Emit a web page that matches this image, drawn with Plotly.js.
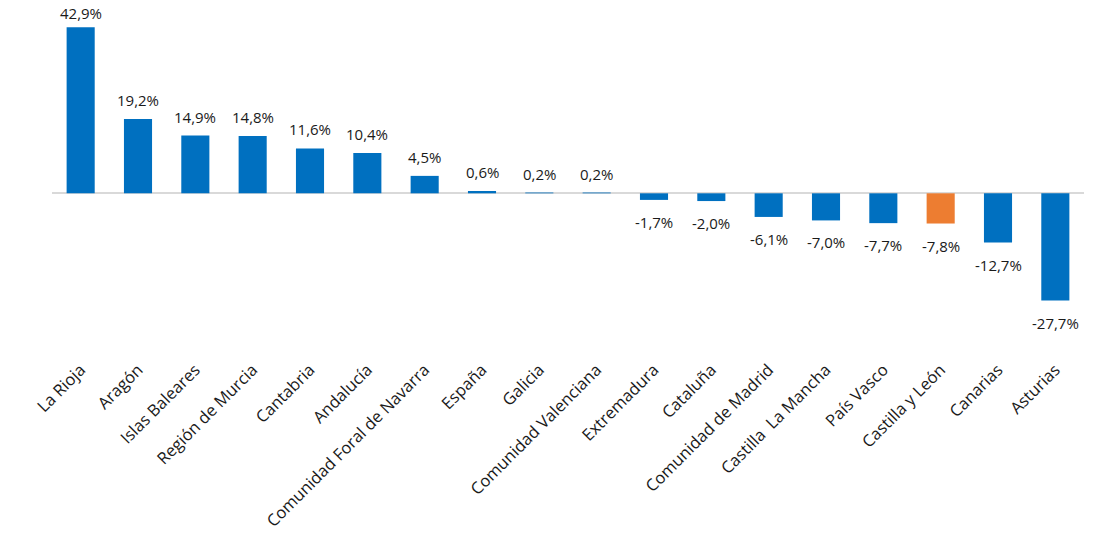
<!DOCTYPE html>
<html>
<head>
<meta charset="utf-8">
<script src="https://cdn.plot.ly/plotly-3.0.1.min.js"></script>
<style>
  html, body { margin: 0; padding: 0; background: #ffffff; }
  #chart { width: 1100px; height: 541px; }
</style>
</head>
<body>
<div id="chart"></div>
<script>
// Variación por comunidad autónoma (%)
const regions = [
  "La Rioja", "Aragón", "Islas Baleares", "Región de Murcia", "Cantabria",
  "Andalucía", "Comunidad Foral de Navarra", "España", "Galicia",
  "Comunidad Valenciana", "Extremadura", "Cataluña", "Comunidad de Madrid",
  "Castilla  La Mancha", "País Vasco", "Castilla y León", "Canarias", "Asturias"
];
const changes = [
  42.9, 19.2, 14.9, 14.8, 11.6, 10.4, 4.5, 0.6, 0.2, 0.2,
  -1.7, -2.0, -6.1, -7.0, -7.7, -7.8, -12.7, -27.7
];
const highlighted = "Castilla y León";

const BLUE = "#0070C0";
const ORANGE = "#ED7D31";
const FONT = "Open Sans, sans-serif";

const fmt = v => v.toFixed(1).replace(".", ",") + "%";

const barColors = regions.map(r => r === highlighted ? ORANGE : BLUE);

const trace = {
  type: "bar",
  x: regions,
  y: changes,
  marker: { color: barColors, line: { width: 0 } },
  hoverinfo: "x+y"
};

const maxValue = Math.max(...changes);

const labels = regions.map((r, i) => {
  const v = changes[i];
  // the tallest bar's label sits closer so it stays inside the page
  const upShift = v === maxValue ? 2 : 7;
  return {
    x: r,
    y: v,
    xref: "x",
    yref: "y",
    text: fmt(v),
    showarrow: false,
    xanchor: "center",
    yanchor: v >= 0 ? "bottom" : "top",
    yshift: v >= 0 ? upShift : -10,
    font: { family: FONT, size: 15, color: "#1a1a1a" }
  };
});

const layout = {
  width: 1100,
  height: 541,
  margin: { l: 52, r: 16, t: 19, b: 185 },
  paper_bgcolor: "#ffffff",
  plot_bgcolor: "#ffffff",
  showlegend: false,
  bargap: 0.51,
  font: { family: FONT, size: 15, color: "#1a1a1a" },
  xaxis: {
    type: "category",
    tickangle: -45,
    showline: false,
    showgrid: false,
    ticks: "",
    tickfont: { family: FONT, size: 16.5, color: "#1a1a1a" },
    automargin: false
  },
  yaxis: {
    range: [-42, 45],
    showgrid: false,
    showline: false,
    showticklabels: false,
    ticks: "",
    zeroline: true,
    zerolinecolor: "#d9d9d9",
    zerolinewidth: 2
  },
  annotations: labels
};

Plotly.newPlot("chart", [trace], layout, { displayModeBar: false, staticPlot: true });
</script>
</body>
</html>
